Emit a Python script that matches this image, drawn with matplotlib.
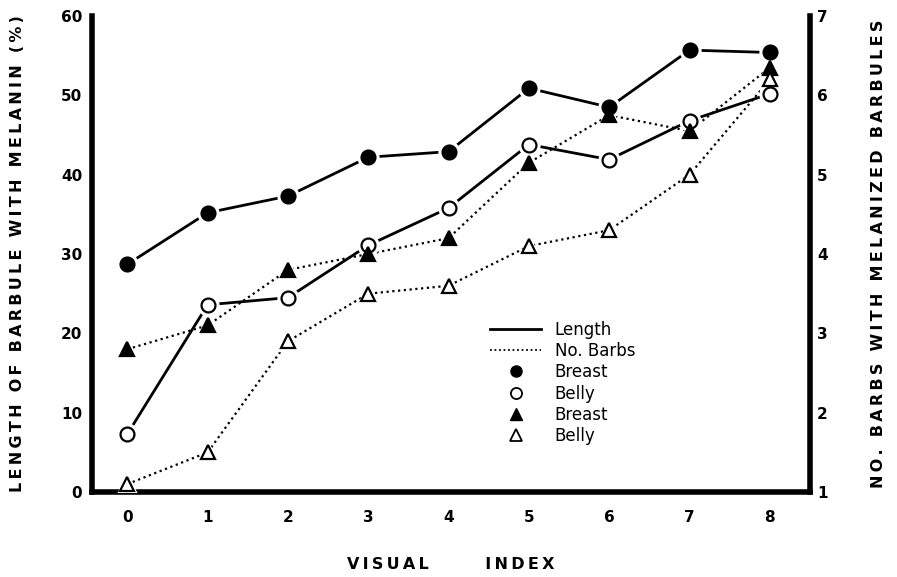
import matplotlib
matplotlib.use("Agg")
import matplotlib.pyplot as plt
from matplotlib.lines import Line2D

plt.rcParams['font.family'] = ['DejaVu Sans']

visual_index = [0, 1, 2, 3, 4, 5, 6, 7, 8]

# length of barbule with melanin (%), left axis
length_breast = [28.7, 35.2, 37.3, 42.2, 42.9, 50.9, 48.5, 55.7, 55.4]
length_belly = [7.3, 23.6, 24.5, 31.1, 35.8, 43.8, 41.9, 46.8, 50.2]

# no. of barbs with melanized barbules, right axis
barbs_breast = [2.8, 3.1, 3.8, 4.0, 4.2, 5.15, 5.75, 5.55, 6.35]
barbs_belly = [1.1, 1.5, 2.9, 3.5, 3.6, 4.1, 4.3, 5.0, 6.2]

left_ticks = [0, 10, 20, 30, 40, 50, 60]
right_ticks = [1, 2, 3, 4, 5, 6, 7]

DOTS = (0, (1, 1.6))
MS = 10


def spaced(text):
    # wide letter spacing like the old typeset labels
    return '\u2009'.join(text)


def draw_series(ax, x, y, marker, filled, ls, lw, transform):
    ax.plot(x, y, color='black', lw=lw, ls=ls, transform=transform, zorder=2)
    # white ring so the lines stop short of the symbols
    ax.plot(x, y, ls='none', marker=marker, ms=MS + 5, mfc='white', mec='white',
            transform=transform, zorder=3)
    ax.plot(x, y, ls='none', marker=marker, ms=MS,
            mfc='black' if filled else 'white', mec='black', mew=1.6,
            transform=transform, zorder=4)


fig = plt.figure(figsize=(8.97, 5.77), dpi=100)
ax = fig.add_axes([92 / 897, 85 / 577, 718 / 897, 476 / 577])
ax2 = ax.twinx()

ax.set_xlim(-0.44, 8.5)
ax.set_ylim(0, 60)
ax2.set_ylim(1, 7)

draw_series(ax, visual_index, length_breast, 'o', True, '-', 2.0, ax.transData)
draw_series(ax, visual_index, length_belly, 'o', False, '-', 2.0, ax.transData)
draw_series(ax, visual_index, barbs_breast, '^', True, DOTS, 1.6, ax2.transData)
draw_series(ax, visual_index, barbs_belly, '^', False, DOTS, 1.6, ax2.transData)

for a in (ax, ax2):
    for side in ('top', 'left', 'right', 'bottom'):
        a.spines[side].set_visible(False)
ax.spines['left'].set_visible(True)
ax.spines['bottom'].set_visible(True)
ax2.spines['right'].set_visible(True)
for sp in (ax.spines['left'], ax.spines['bottom'], ax2.spines['right']):
    sp.set_linewidth(4)
    sp.set_capstyle('projecting')

ax.set_xticks(visual_index)
ax.set_yticks(left_ticks)
ax2.set_yticks(right_ticks)
ax.tick_params(axis='x', length=0, pad=13, labelsize=11)
ax.tick_params(axis='y', length=0, pad=7, labelsize=11)
ax2.tick_params(axis='y', length=0, pad=5, labelsize=11)
for lab in ax.get_xticklabels() + ax.get_yticklabels() + ax2.get_yticklabels():
    lab.set_fontweight('bold')

ax.set_ylabel(spaced('LENGTH OF BARBULE WITH MELANIN (%)'), fontsize=11.5, fontweight='bold')
ax.yaxis.set_label_coords(-0.093, 0.5)
ax2.set_ylabel(spaced('NO. BARBS WITH MELANIZED BARBULES'), fontsize=11.5, fontweight='bold')
ax2.yaxis.set_label_coords(1.085, 0.5)
ax.set_xlabel(spaced('VISUAL      INDEX'), fontsize=11.5, fontweight='bold')
ax.xaxis.set_label_coords(0.5, -0.137)

handles = [
    Line2D([], [], color='black', lw=2.0),
    Line2D([], [], color='black', lw=1.3, ls=(0, (1, 1.5))),
    Line2D([], [], ls='none', marker='o', ms=8, mfc='black', mec='black'),
    Line2D([], [], ls='none', marker='o', ms=8, mfc='white', mec='black', mew=1.3),
    Line2D([], [], ls='none', marker='^', ms=9, mfc='black', mec='black'),
    Line2D([], [], ls='none', marker='^', ms=9, mfc='white', mec='black', mew=1.3),
]
labels = ['Length', 'No. Barbs', 'Breast', 'Belly', 'Breast', 'Belly']
ax.legend(handles, labels, loc='upper left', bbox_to_anchor=(0.554, 0.36),
          frameon=False, borderaxespad=0, borderpad=0, fontsize=12,
          handlelength=3.1, handletextpad=0.8, labelspacing=0.2)

fig.savefig('out.png', dpi=100)
